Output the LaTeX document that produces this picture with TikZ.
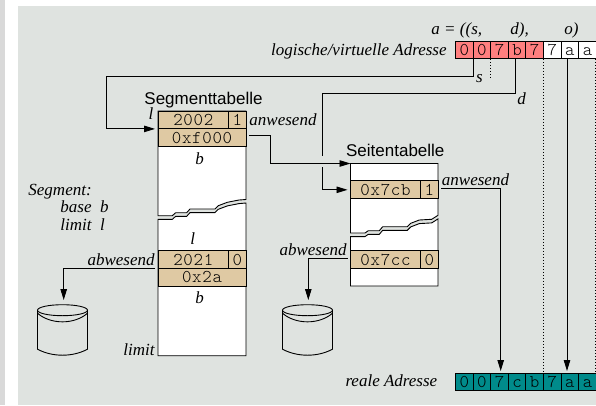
\documentclass[tikz,border=0pt]{standalone}
\usepackage{fontspec}
\setmainfont{Liberation Serif}
\setsansfont{Liberation Sans}
\setmonofont[LetterSpace=4]{Latin Modern Mono Light}
\usepackage{xcolor}
\usetikzlibrary{arrows.meta}
\definecolor{panelgray}{HTML}{DFE3E0}
\definecolor{stripgray}{HTML}{D9D9D9}
\definecolor{rowtan}{HTML}{DFC9A3}
\definecolor{addrred}{HTML}{FF7F7F}
\definecolor{addrteal}{HTML}{008B8B}
\tikzset{
    disk/.pic={
        \draw (0,0) ellipse [x radius=25pt, y radius=5.5pt];
        \draw (-25,3) .. controls (-12,14.5) and (12,14.5) .. (25,3);
        \draw (-25,0) -- (-25,39) .. controls (-10,47) and (10,47) .. (25,39) -- (25,0);
    }
}
\begin{document}
\begin{tikzpicture}[
    x=1pt, y=-1pt,
    line width=0.9pt,
    lbl/.style={inner sep=0pt, font=\fontsize{17}{17}\selectfont\itshape},
    title/.style={inner sep=0pt, anchor=base west, font=\fontsize{17}{17}\selectfont\sffamily},
    cell/.style={
        draw, inner sep=0pt, outer sep=0pt,
        minimum width=17.6pt, minimum height=17.8pt,
        text height=11pt, text depth=0pt,
        font=\fontsize{18}{18}\selectfont\ttfamily
    },
    row/.style={cell, fill=rowtan},
    conn/.style={-{Triangle[length=11pt,width=6.5pt]}},
    guide/.style={dash pattern=on 1pt off 2pt}
]
\useasboundingbox (0,0) rectangle (596,405);
\fill[stripgray] (0,0) rectangle (5,405);
\fill[panelgray] (18,6) rectangle (596,405);

% table bodies with the torn part
\draw[fill=white] (158,111) -- (246,111) -- (246,199.5) -- (239,200) -- (227.3,202.3) -- (218.3,205.7)
    -- (215,209) -- (190,209) -- (186.7,212.7) -- (175.7,212.7) -- (172.3,215.7) -- (158,215.7) -- cycle;
\draw[fill=white] (158,219.3) -- (172.3,219.3) -- (175.7,216.3) -- (186.7,216.3) -- (190,212.6) -- (215,212.6)
    -- (218.3,209.3) -- (227.3,205.9) -- (239,203.6) -- (246,203) -- (246,355.7) -- (158,355.7) -- cycle;
\draw[fill=white] (350.5,163.5) -- (438,163.5) -- (438,215.3) -- (431.7,219.3) -- (419.3,220) -- (410.7,223.3)
    -- (407.3,226.7) -- (382.7,226.7) -- (379.3,230.7) -- (368.3,230.7) -- (365,233) -- (350.5,233) -- cycle;
\draw[fill=white] (350.5,236.6) -- (365,236.6) -- (368.3,234.3) -- (379.3,234.3) -- (382.7,230.3) -- (407.3,230.3)
    -- (410.7,226.9) -- (419.3,223.6) -- (431.7,222.9) -- (438,218.9) -- (438,286) -- (350.5,286) -- cycle;

% Segmenttabelle
\node[row, minimum width=70.5pt] (segL)  at (193.25,120)  {2002};
\node[row, minimum width=17.5pt] (segP)  at (237.25,120)  {1};
\node[row, minimum width=88pt]   (segB)  at (202,137.7)   {0xf000};
\node[row, minimum width=70.5pt] (segLb) at (193.25,259.6) {2021};
\node[row, minimum width=17.5pt] (segPb) at (237.25,259.6) {0};
\node[row, minimum width=88pt]   (segBb) at (202,277.3)   {0x2a};

% Seitentabelle
\node[row, minimum width=70pt]   (pgA)  at (385.5,189.8) {0x7cb};
\node[row, minimum width=17.5pt] (pgP)  at (429.25,189.8) {1};
\node[row, minimum width=70pt]   (pgAb) at (385.5,259.6) {0x7cc};
\node[row, minimum width=17.5pt] (pgPb) at (429.25,259.6) {0};

% logische Adresse
\node[cell, fill=addrred] (va) at (464.3,50) {0};
\node[cell, fill=addrred] (vb) at (481.9,50) {0};
\node[cell, fill=addrred] (vc) at (499.5,50) {7};
\node[cell, fill=addrred] (vd) at (517.1,50) {b};
\node[cell, fill=addrred] (ve) at (534.7,50) {7};
\node[cell, fill=white]   (vf) at (552.3,50) {7};
\node[cell, fill=white]   (vg) at (569.9,50) {a};
\node[cell, fill=white]   (vh) at (587.5,50) {a};

% reale Adresse
\node[cell, fill=addrteal] (ra) at (464.3,382) {0};
\node[cell, fill=addrteal] (rb) at (481.9,382) {0};
\node[cell, fill=addrteal] (rc) at (499.5,382) {7};
\node[cell, fill=addrteal] (rd) at (517.1,382) {c};
\node[cell, fill=addrteal] (re) at (534.7,382) {b};
\node[cell, fill=addrteal] (rf) at (552.3,382) {7};
\node[cell, fill=addrteal] (rg) at (569.9,382) {a};
\node[cell, fill=addrteal] (rh) at (587.5,382) {a};

% titles and labels
\node[title] (segT) at (144,104)   {Segmenttabelle};
\node[title] (pgT)  at (345.7,156.5) {Seitentabelle};
\node[lbl, anchor=base west] (formA) at (431,34) {a = ((s,};
\node[lbl, anchor=base west] (formD) at (510,34) {d),};
\node[lbl, anchor=base west] (formO) at (564,34) {o)};
\node[lbl, anchor=base east] (vLbl)  at (447,55) {logische/virtuelle Adresse};
\node[lbl, anchor=base east] (rLbl)  at (437.7,386.7) {reale Adresse};
\node[lbl, anchor=base]      (sLbl)  at (479.5,82.5) {s};
\node[lbl, anchor=base]      (dLbl)  at (521.5,104) {d};
\node[lbl, anchor=base]      (lTop)  at (151,119.3)  {l};
\node[lbl, anchor=base]      (bTop)  at (199.5,164) {b};
\node[lbl, anchor=base]      (lLow)  at (192.7,244) {l};
\node[lbl, anchor=base]      (bLow)  at (199.5,303) {b};
\node[lbl, anchor=base west] (anwS)  at (249,125)  {anwesend};
\node[lbl, anchor=base west] (anwP)  at (441.5,185) {anwesend};
\node[lbl, anchor=base east] (abwS)  at (155,265)  {abwesend};
\node[lbl, anchor=base east] (abwP)  at (347,255)  {abwesend};
\node[lbl, anchor=base east] (limL)  at (155,355.5) {limit};
\node[lbl, anchor=base west] (segW)  at (28,195)   {Segment:};
\node[lbl, anchor=base west] (segW2) at (60,212.7) {base~~b};
\node[lbl, anchor=base west] (segW3) at (60,230)   {limit~~l};

% disks
\pic (diskS) at (62.5,310.2) {disk};
\pic (diskP) at (307.5,310.2) {disk};

% bends and free ends
\coordinate (sStart) at (473.5,59);
\coordinate (sBend)  at (106,76);
\coordinate (dStart) at (515,59);
\coordinate (dBend)  at (322.5,93.5);
\coordinate (dGapA)  at (322.5,156);
\coordinate (dGapB)  at (322.5,167);
\coordinate (fBend)  at (270,135);
\coordinate (pgTop)  at (350.5,163.5);
\coordinate (anwBend) at (500.7,188);
\coordinate (anwEnd) at (500.7,371);
\coordinate (oStart) at (567,59);
\coordinate (oEnd)   at (567,371);
\coordinate (abwSBend) at (63.7,268.5);
\coordinate (abwSEnd)  at (63.7,300);
\coordinate (abwPBend) at (308.3,258);
\coordinate (abwPEnd)  at (308.3,300);

% connectors
\draw[conn, shorten >=3pt] (sStart) |- (sBend) |- (segL.south west);
\draw (dStart) |- (dBend) -- (dGapA);
\draw[conn, shorten >=3pt] (dGapB) |- (pgA.west);
\draw[conn, shorten <=3pt] (fBend -| segB.east) -- (fBend) |- (pgTop);
\draw[conn, shorten <=3pt] (anwBend -| pgP.east) -- (anwBend) -- (anwEnd);
\draw[conn] (oStart) -- (oEnd);
\draw[conn, shorten <=3pt] (abwSBend -| segLb.west) -- (abwSBend) -- (abwSEnd);
\draw[conn, shorten <=3pt] (abwPBend -| pgAb.west) -- (abwPBend) -- (abwPEnd);

% dotted guides
\draw[guide] (vb.south east) -- ++(0,21);
\draw[guide] (ve.south east) -- (re.north east);
\draw[guide] (vh.south east) ++(-1,0) -- ([xshift=-1pt]rh.north east);
\end{tikzpicture}
\end{document}
